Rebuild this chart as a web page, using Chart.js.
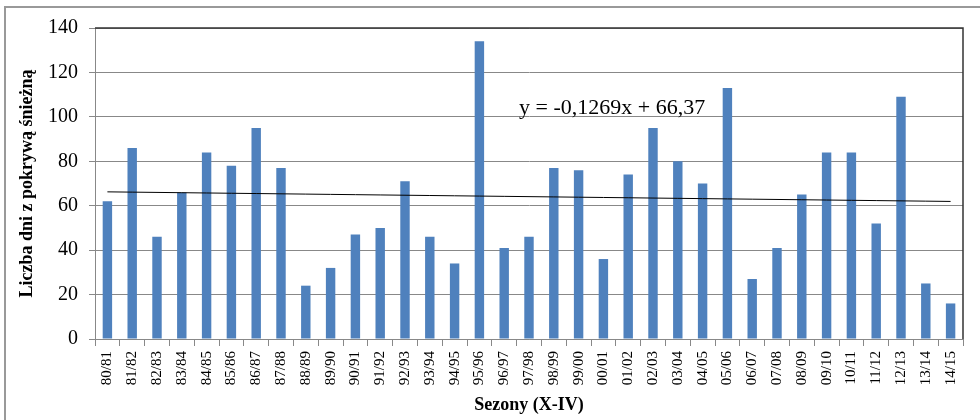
<!DOCTYPE html>
<html>
<head>
<meta charset="utf-8">
<script src="https://cdn.jsdelivr.net/npm/chart.js@4.4.0/dist/chart.umd.min.js"></script>
<style>
  html, body { margin: 0; padding: 0; background: #fff; }
  .frame {
    position: absolute; left: 4px; top: 6px; width: 976px; height: 414px;
    border-left: 2px solid #999; border-top: 2px solid #999;
  }
  .chart-wrap { position: absolute; left: 0; top: 0; width: 980px; height: 420px; }
</style>
</head>
<body>
<div class="frame"></div>
<div class="chart-wrap"><canvas id="snowChart" width="980" height="420"></canvas></div>
<script>
const seasons = ['80/81','81/82','82/83','83/84','84/85','85/86','86/87','87/88','88/89','89/90',
  '90/91','91/92','92/93','93/94','94/95','95/96','96/97','97/98','98/99','99/00',
  '00/01','01/02','02/03','03/04','04/05','05/06','06/07','07/08','08/09','09/10',
  '10/11','11/12','12/13','13/14','14/15'];
const snowDays = [62, 86, 46, 66, 84, 78, 95, 77, 24, 32,
  47, 50, 71, 46, 34, 134, 41, 46, 77, 76,
  36, 74, 95, 80, 70, 113, 27, 41, 65, 84,
  84, 52, 109, 25, 16];
const yTicks = [0, 20, 40, 60, 80, 100, 120, 140];

// trend line from the equation shown on the chart
const trendSlope = -0.1269;
const trendIntercept = 66.37;
const trendLabel = 'y = -0,1269x + 66,37';
const trendValues = seasons.map((s, i) => trendSlope * (i + 1) + trendIntercept);

const serif = '"Liberation Serif", "Times New Roman", serif';

const extras = {
  id: 'extras',
  afterDraw(chart) {
    const { ctx, chartArea, scales } = chart;
    ctx.save();
    // dark top and right edge of plot area
    ctx.strokeStyle = '#333';
    ctx.lineWidth = 1.5;
    ctx.beginPath();
    ctx.moveTo(chartArea.left, chartArea.top);
    ctx.lineTo(chartArea.right, chartArea.top);
    ctx.lineTo(chartArea.right, chartArea.bottom);
    ctx.stroke();
    // equation label
    ctx.fillStyle = '#000';
    ctx.font = '22px ' + serif;
    ctx.textBaseline = 'alphabetic';
    ctx.textAlign = 'left';
    ctx.fillText(trendLabel, chartArea.left + 424, scales.y.getPixelForValue(101.5));
    ctx.restore();
  }
};

new Chart(document.getElementById('snowChart'), {
  type: 'bar',
  data: {
    labels: seasons,
    datasets: [
      {
        type: 'line',
        data: trendValues,
        borderColor: '#000',
        borderWidth: 1,
        pointRadius: 0,
        fill: false,
        order: 0
      },
      {
        data: snowDays,
        backgroundColor: '#4F81BD',
        barPercentage: 0.38,
        categoryPercentage: 1,
        order: 1
      }
    ]
  },
  options: {
    responsive: false,
    animation: false,
    layout: { padding: { left: 0, top: 28, right: 17, bottom: 0 } },
    plugins: { legend: { display: false }, tooltip: { enabled: false } },
    scales: {
      x: {
        grid: {
          offset: true,
          drawOnChartArea: false,
          drawTicks: true,
          tickLength: 7,
          color: '#888'
        },
        border: { color: '#888' },
        ticks: {
          minRotation: 90,
          maxRotation: 90,
          autoSkip: false,
          padding: 5,
          color: '#000',
          font: { family: serif, size: 15 }
        },
        title: {
          display: true,
          text: 'Sezony (X-IV)',
          color: '#000',
          font: { family: serif, size: 18, weight: 'bold' },
          padding: { top: 0, bottom: 4 }
        },
        afterFit(scale) { scale.height = 81; }
      },
      y: {
        min: 0,
        max: 140,
        afterBuildTicks(scale) { scale.ticks = yTicks.map(v => ({ value: v })); },
        grid: { color: '#888', tickLength: 6 },
        border: { color: '#888' },
        ticks: {
          padding: 11,
          color: '#000',
          font: { family: serif, size: 20 }
        },
        title: {
          display: true,
          text: 'Liczba dni z pokrywą śnieżną',
          color: '#000',
          font: { family: serif, size: 18, weight: 'bold' },
          padding: { top: 17, bottom: 0 }
        },
        afterFit(scale) { scale.width = 95; }
      }
    }
  },
  plugins: [extras]
});
</script>
</body>
</html>
